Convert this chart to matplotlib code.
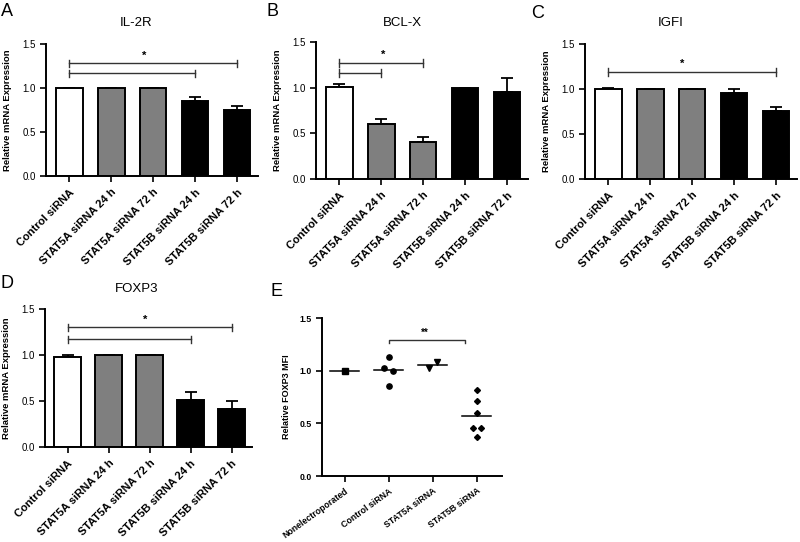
import matplotlib
matplotlib.use("Agg")
import matplotlib.pyplot as plt
import numpy as np

plt.rcParams['font.family'] = ['Liberation Sans', 'DejaVu Sans']

# ---- data ----
bar_labels = ["Control siRNA", "STAT5A siRNA 24 h", "STAT5A siRNA 72 h",
              "STAT5B siRNA 24 h", "STAT5B siRNA 72 h"]
bar_colors = ["white", "#7f7f7f", "#7f7f7f", "black", "black"]

il2r_vals = [1.0, 1.0, 1.0, 0.85, 0.75]
il2r_err = [0.0, 0.0, 0.0, 0.05, 0.05]
bclx_vals = [1.01, 0.60, 0.40, 1.0, 0.955]
bclx_err = [0.025, 0.055, 0.06, 0.0, 0.15]
igf1_vals = [1.0, 1.0, 1.0, 0.955, 0.755]
igf1_err = [0.01, 0.0, 0.0, 0.045, 0.045]
foxp3_vals = [0.98, 1.0, 1.0, 0.51, 0.41]
foxp3_err = [0.02, 0.0, 0.0, 0.09, 0.09]

# significance brackets: (start bar, end bar, height), star (x, y)
il2r_brackets = [(0, 4, 1.28), (0, 3, 1.17)]
il2r_star = (1.8, 1.37)
bclx_brackets = [(0, 2, 1.27), (0, 1, 1.16)]
bclx_star = (1.05, 1.36)
igf1_brackets = [(0, 4, 1.19)]
igf1_star = (1.76, 1.28)
foxp3_brackets = [(0, 4, 1.30), (0, 3, 1.17)]
foxp3_star = (1.9, 1.38)

mfi_groups = ["Nonelectroporated", "Control siRNA", "STAT5A siRNA", "STAT5B siRNA"]
mfi_values = [[1.0],
              [1.13, 1.03, 1.0, 0.85],
              [1.03, 1.085],
              [0.82, 0.71, 0.60, 0.46, 0.46, 0.37]]
mfi_markers = ["s", "o", "v", "D"]
mfi_bracket = (1, 2.72, 1.29)
mfi_star = (1.82, 1.36)

W, H = 800, 542
fig = plt.figure(figsize=(W / 100, H / 100), dpi=100)


def px_axes(left, top, right, bottom):
    return fig.add_axes([left / W, 1 - bottom / H, (right - left) / W, (bottom - top) / H])


def style_axes(ax, lw=1.4):
    for s in ["top", "right"]:
        ax.spines[s].set_visible(False)
    for s in ["left", "bottom"]:
        ax.spines[s].set_linewidth(lw)
    ax.tick_params(direction="out", length=4, width=1.2)
    ax.set_ylim(0, 1.5)
    ax.set_yticks([0, 0.5, 1.0, 1.5])
    ax.set_yticklabels(["%.1f" % t for t in [0, 0.5, 1.0, 1.5]])


def bar_panel(box, vals, errs, title, brackets, star, letter, title_xy, letter_xy):
    ax = px_axes(*box)
    x = np.arange(len(vals))
    ax.errorbar(x, vals, yerr=[np.zeros(len(errs)), errs], fmt="none", ecolor="black",
                elinewidth=1.3, capsize=4, capthick=1.3, zorder=1)
    ax.bar(x, vals, width=0.64, color=bar_colors, edgecolor="black", linewidth=1.4, zorder=2)
    style_axes(ax)
    ax.set_xlim(-0.55, 4.5)
    ax.set_xticks(x)
    ax.set_xticklabels(bar_labels, rotation=45, ha="right", rotation_mode="anchor",
                       fontsize=8, fontweight="bold")
    ax.tick_params(axis="x", pad=4)
    ax.tick_params(axis="y", labelsize=7)
    ax.set_ylabel("Relative mRNA Expression", fontsize=6.8, fontweight="bold", labelpad=7)
    for x0, x1, y in brackets:
        ax.plot([x0, x1], [y, y], color="#333333", lw=1, clip_on=False)
        for xe in (x0, x1):
            ax.plot([xe, xe], [y - 0.04, y + 0.04], color="#333333", lw=1, clip_on=False)
    ax.text(star[0], star[1], "*", ha="center", va="center", fontsize=8, fontweight="bold")
    fig.text(title_xy[0] / W, 1 - title_xy[1] / H, title, ha="center", va="center", fontsize=9.5)
    fig.text(letter_xy[0] / W, 1 - letter_xy[1] / H, letter, ha="left", va="center", fontsize=13)
    return ax


bar_panel((46, 44, 258, 176), il2r_vals, il2r_err, "IL-2R", il2r_brackets, il2r_star,
          "A", (136, 23), (1, 12))
bar_panel((316, 42, 528, 179), bclx_vals, bclx_err, "BCL-X", bclx_brackets, bclx_star,
          "B", (402, 23), (266, 12))
bar_panel((585, 44, 797, 179), igf1_vals, igf1_err, "IGFI", igf1_brackets, igf1_star,
          "C", (671, 23), (531, 13))
bar_panel((45, 309, 252, 447), foxp3_vals, foxp3_err, "FOXP3", foxp3_brackets, foxp3_star,
          "D", (137, 289), (0, 283))

# ---- panel E: dot plot ----
ax = px_axes(322, 318, 502, 476)


def spread(vals, gap=0.06, step=0.2):
    # push near-equal values apart sideways, in listed order
    vals = np.asarray(vals, float)
    off = np.zeros(len(vals))
    used = np.zeros(len(vals), bool)
    for i in range(len(vals)):
        if used[i]:
            continue
        grp = [j for j in range(len(vals)) if not used[j] and abs(vals[j] - vals[i]) < gap]
        for k, j in enumerate(grp):
            off[j] = (k - (len(grp) - 1) / 2) * step
            used[j] = True
    return off


for i, (vals, mk) in enumerate(zip(mfi_values, mfi_markers)):
    ms = 3.0 if mk == "D" else 3.8
    ax.plot(i + spread(vals), vals, linestyle="none", marker=mk, color="black", markersize=ms)
    m = np.mean(vals)
    ax.plot([i - 0.33, i + 0.33], [m, m], color="black", lw=1.1)

style_axes(ax)
ax.set_xlim(-0.52, 3.57)
ax.set_xticks(np.arange(len(mfi_groups)))
ax.set_xticklabels(mfi_groups, rotation=36, ha="right", rotation_mode="anchor",
                   fontsize=6.3, fontweight="bold")
ax.tick_params(axis="y", labelsize=6.3)
for t in ax.get_yticklabels():
    t.set_fontweight("bold")
ax.set_ylabel("Relative FOXP3 MFI", fontsize=6.5, fontweight="bold", labelpad=6)
x0, x1, y = mfi_bracket
ax.plot([x0, x0, x1, x1], [y - 0.03, y, y, y - 0.03], color="#333333", lw=1, clip_on=False)
ax.text(mfi_star[0], mfi_star[1], "**", ha="center", va="center", fontsize=7, fontweight="bold")
fig.text(270 / W, 1 - 291 / H, "E", ha="left", va="center", fontsize=13)

fig.savefig("out.png", dpi=100, facecolor="white")
